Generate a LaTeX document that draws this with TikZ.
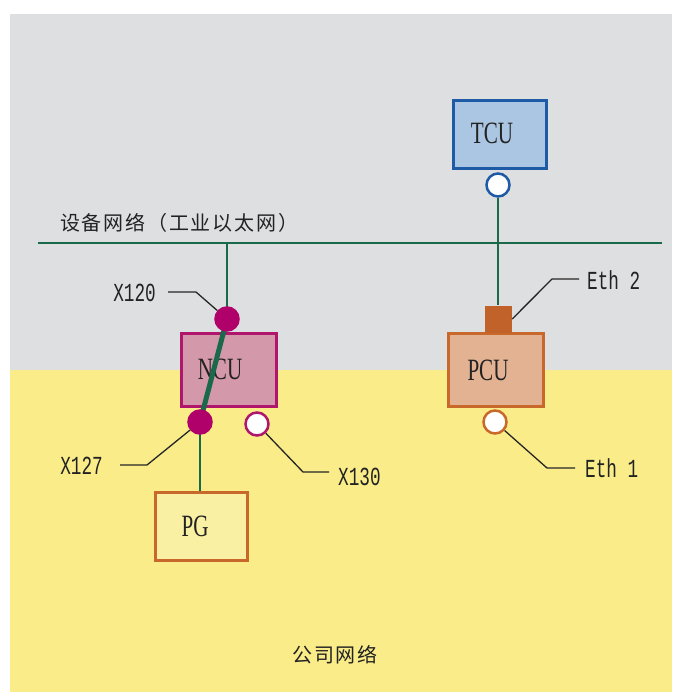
\documentclass[tikz,border=0pt]{standalone}
\usepackage{fontspec}
\setmainfont{Liberation Serif}
\newfontfamily\cjk[LetterSpace=9]{Noto Sans CJK SC}
\newfontfamily\boxfont[FakeStretch=0.68]{Liberation Serif}
\newfontfamily\lblfont[FakeStretch=0.68]{Liberation Mono}
\definecolor{bggray}{HTML}{DEDFE1}
\definecolor{bgyellow}{HTML}{F9EC89}
\definecolor{netgreen}{HTML}{19694A}
\definecolor{ncuF}{HTML}{D498AB}
\definecolor{ncuD}{HTML}{B0166B}
\definecolor{ncuP}{HTML}{B0006A}
\definecolor{pcuF}{HTML}{E2B292}
\definecolor{pcuD}{HTML}{C8692B}
\definecolor{pcuP}{HTML}{C1622A}
\definecolor{tcuF}{HTML}{ABC6E2}
\definecolor{tcuD}{HTML}{1E5AA6}
\definecolor{pgF}{HTML}{FAF0A3}
\definecolor{txt}{HTML}{222222}
\pgfdeclarelayer{bg}
\pgfdeclarelayer{wire}
\pgfdeclarelayer{front}
\pgfsetlayers{bg,main,wire,front}
\tikzset{
  devbox/.style={draw, line width=2.5pt, inner sep=0pt},
  boxtxt/.style={inner sep=0pt, text=txt, font=\boxfont\fontsize{31}{31}\selectfont},
  lbl/.style={inner sep=0pt, text=txt, font=\lblfont\fontsize{26}{26}\selectfont},
  cjktxt/.style={inner sep=0pt, text=txt, font=\cjk\fontsize{20}{20}\selectfont},
  portc/.style={circle, line width=2.5pt, minimum size=23pt, inner sep=0pt},
  net/.style={netgreen, line width=2.5pt},
  lead/.style={black!85, line width=1.3pt},
}
\begin{document}
\begin{tikzpicture}[x=1pt,y=-1pt]
\begin{pgfonlayer}{bg}
  \fill[white] (0,0) rectangle (672,692);
  \fill[bggray] (10,14) rectangle (672,370);
  \fill[bgyellow] (10,370) rectangle (672,692);
\end{pgfonlayer}
\useasboundingbox (0,0) rectangle (672,692);

% boxes
\node[devbox, fill=tcuF, draw=tcuD, minimum width=93pt, minimum height=68pt] (tcu) at (500,134.5) {};
\node[devbox, fill=ncuF, draw=ncuD, minimum width=95pt, minimum height=73pt] (ncu) at (229,370) {};
\node[devbox, fill=pcuF, draw=pcuD, minimum width=95pt, minimum height=73pt] (pcu) at (496,370) {};
\node[devbox, fill=pgF, draw=pcuD, minimum width=92pt, minimum height=68pt] (pg) at (201.5,526.5) {};
\node[fill=pcuP, inner sep=0pt, minimum width=27pt, minimum height=27pt] (pcuport) at (498.5,319) {};

\node[boxtxt] (tcut) at (492,133) {TCU};
\node[boxtxt] (ncut) at (220,369) {NCU};
\node[boxtxt] (pcut) at (488,370) {PCU};
\node[boxtxt] (pgt) at (195,526) {PG};

% texts
\node[cjktxt, anchor=west] (netlbl) at (60,223) {设备网络（工业以太网）};
\node[cjktxt] (corplbl) at (335,655) {公司网络};
\node[lbl, anchor=east] (l120) at (156,293) {X120};
\node[lbl, anchor=east] (l127) at (103,466) {X127};
\node[lbl, anchor=west] (l130) at (338,477) {X130};
\node[lbl, anchor=west] (leth2) at (587,280) {Eth 2};
\node[lbl, anchor=west] (leth1) at (585,468) {Eth 1};

% ports
\begin{pgfonlayer}{front}
  \node[portc, draw=tcuD, fill=white] (tcuP) at (498,185) {};
  \node[portc, draw=pcuD, fill=white] (pcuP) at (495,422) {};
  \node[portc, draw=ncuP, fill=ncuP] (x120) at (227,319) {};
  \node[portc, draw=ncuP, fill=ncuP] (x127) at (200,422) {};
  \node[portc, draw=ncuD, fill=white] (x130) at (257,424) {};
\end{pgfonlayer}

\coordinate (netL) at (38,243);
\coordinate (netR) at (662,243);
\coordinate (e120) at (168,292);
\coordinate (e127) at (120,465);
\coordinate (e130) at (329,472);
\coordinate (eeth2) at (579,279);
\coordinate (eeth1) at (575,468);

\begin{pgfonlayer}{wire}
  \draw[net] (netL) -- (netR);
  \draw[net] (x120.center) -- (x120.center |- netL);
  \draw[net] (tcuP) -- (tcuP |- pcuport.north);
  \draw[net, line width=5pt] (x120.center) -- (x127.center);
  \draw[net] (x127.center) -- (x127.center |- pg.north);
  \draw[lead] (e120) -- (196,292) -- (x120);
  \draw[lead] (e127) -- (147,465) -- (x127);
  \draw[lead] (x130) -- (303,472) -- (e130);
  \draw[lead] (pcuport.east) -- (552,279) -- (eeth2);
  \draw[lead] (pcuP) -- (547,468) -- (eeth1);
\end{pgfonlayer}
\end{tikzpicture}
\end{document}
